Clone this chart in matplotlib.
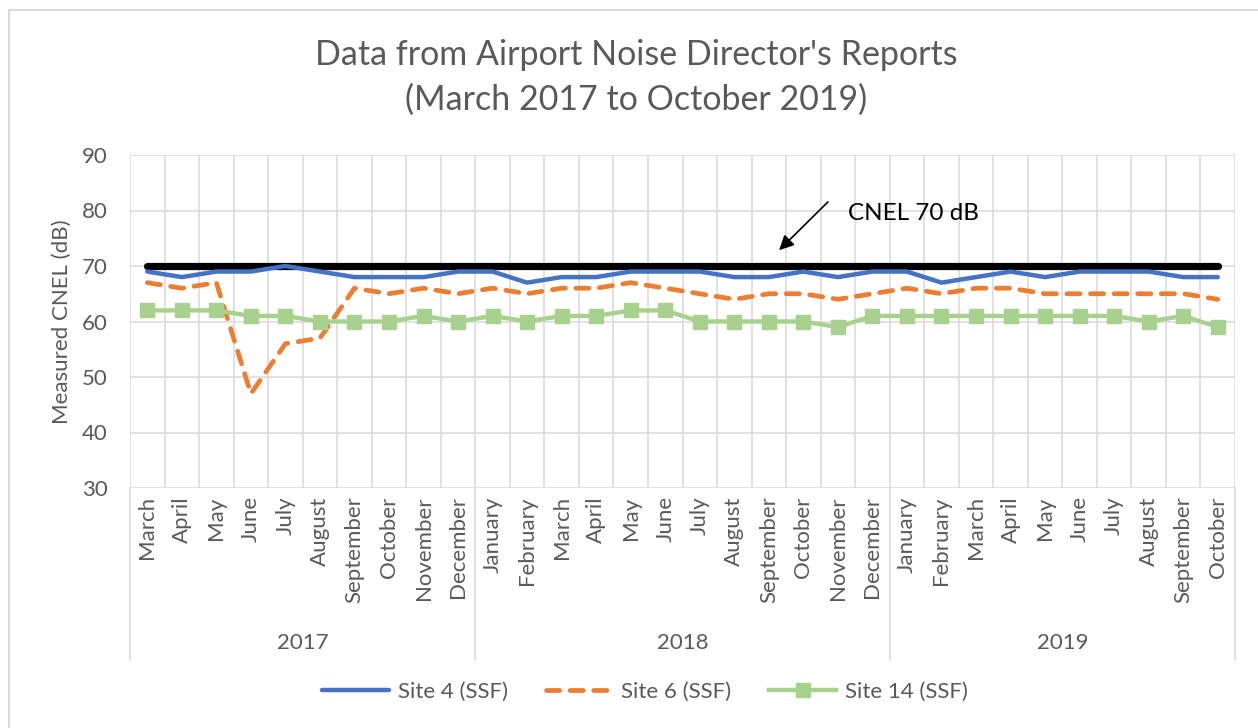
import matplotlib
matplotlib.use("Agg")
import matplotlib.pyplot as plt
from matplotlib.patches import Rectangle
from matplotlib.lines import Line2D

plt.rcParams['font.family'] = ['Lato', 'DejaVu Sans']

months = ["March", "April", "May", "June", "July", "August", "September", "October", "November", "December",
          "January", "February", "March", "April", "May", "June", "July", "August", "September", "October", "November", "December",
          "January", "February", "March", "April", "May", "June", "July", "August", "September", "October"]
years = ["2017", "2018", "2019"]
year_counts = [10, 12, 10]

site4 = [69, 68, 69, 69, 70, 69, 68, 68, 68, 69,
         69, 67, 68, 68, 69, 69, 69, 68, 68, 69, 68, 69,
         69, 67, 68, 69, 68, 69, 69, 69, 68, 68]
site6 = [67, 66, 67, 47, 56, 57, 66, 65, 66, 65,
         66, 65, 66, 66, 67, 66, 65, 64, 65, 65, 64, 65,
         66, 65, 66, 66, 65, 65, 65, 65, 65, 64]
site14 = [62, 62, 62, 61, 61, 60, 60, 60, 61, 60,
          61, 60, 61, 61, 62, 62, 60, 60, 60, 60, 59, 61,
          61, 61, 61, 61, 61, 61, 61, 60, 61, 59]
cnel_limit = 70

W, H = 1258, 728
fig = plt.figure(figsize=(W / 100, H / 100), dpi=100)
ax = fig.add_axes([130 / W, (H - 488) / H, (1235 - 130) / W, (488 - 155) / H])

grid_c = "#d9d9d9"
text_c = "#595959"
n = len(months)
x = list(range(n))
fs = 16

# gridlines
for yv in range(30, 91, 10):
    ax.axhline(yv, color=grid_c, lw=1.1, zorder=0)
for i in range(n + 1):
    ax.axvline(i - 0.5, color=grid_c, lw=1.1, zorder=0)

ax.plot(x, [cnel_limit] * n, color="black", lw=5.2, solid_capstyle="round", zorder=3)
ax.plot(x, site4, color="#4472C4", lw=3.2, solid_capstyle="round", label="Site 4 (SSF)", zorder=4)
ax.plot(x, site6, color="#ED7D31", lw=3.4, ls=(0, (2.8, 2.2)), dash_capstyle="round", label="Site 6 (SSF)", zorder=4)
ax.plot(x, site14, color="#A9D18E", lw=3.2, marker="s", markersize=9.5, label="Site 14 (SSF)", zorder=4)

ax.set_xlim(-0.5, n - 0.5)
ax.set_ylim(30, 90)
ax.set_yticks(range(30, 91, 10))
ax.set_xticks(x)
ax.set_xticklabels(months, rotation=90, fontsize=fs, color=text_c)
ax.tick_params(axis="x", length=0, pad=6)
ax.tick_params(axis="y", length=0, pad=16, labelsize=fs, labelcolor=text_c)
for s in ax.spines.values():
    s.set_visible(False)
ax.set_ylabel("Measured CNEL (dB)", fontsize=fs, color=text_c, labelpad=7)

# year group row
tr = ax.get_xaxis_transform()
bounds = [-0.5]
for c in year_counts:
    bounds.append(bounds[-1] + c)
for b in bounds:
    ax.add_line(Line2D([b, b], [0, -0.5165], transform=tr, color=grid_c, lw=1.1, clip_on=False))
for i, yr in enumerate(years):
    ax.text((bounds[i] + bounds[i + 1]) / 2, -0.4655, yr, transform=tr, ha="center", va="center",
            fontsize=fs, color=text_c)

# annotation
ax.annotate("", xy=(18.24, 72.5), xytext=(19.77, 81.9),
            arrowprops=dict(arrowstyle="-|>", color="black", lw=1.2, mutation_scale=22), zorder=5)
ax.text(20.3, 79.4, "CNEL 70 dB", fontsize=17.5, color="black", ha="left", va="center")

# title
fig.text(636 / W, 1 - 55 / H, "Data from Airport Noise Director's Reports", ha="center", va="center",
         fontsize=24.5, color=text_c)
fig.text(636 / W, 1 - 100 / H, "(March 2017 to October 2019)", ha="center", va="center",
         fontsize=24.5, color=text_c)

# chart border
fig.add_artist(Rectangle((8.5 / W, -0.1), 1.2, 1 - 10 / H + 0.1, transform=fig.transFigure,
                         fill=False, edgecolor=grid_c, lw=1.5))

leg = fig.legend(loc="center", bbox_to_anchor=(645 / W, 1 - 692 / H), ncol=3, frameon=False,
                 fontsize=fs, handlelength=3.0, columnspacing=1.7, handletextpad=0.4)
for t in leg.get_texts():
    t.set_color(text_c)

fig.savefig("out.png", dpi=100)
